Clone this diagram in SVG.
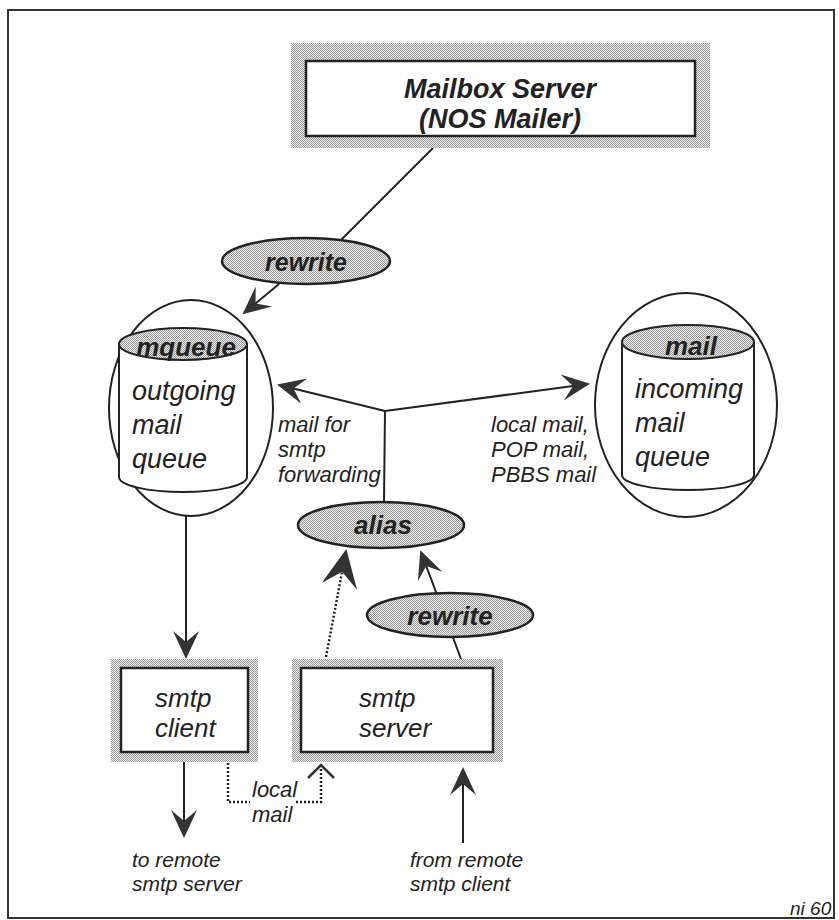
<svg xmlns="http://www.w3.org/2000/svg" width="839" height="920" viewBox="0 0 839 920">
<defs>
<pattern id="dither" width="2" height="2" patternUnits="userSpaceOnUse">
<rect width="2" height="2" fill="#eeeeee"/>
<rect width="1" height="1" fill="#9a9a9a"/>
<rect x="1" y="1" width="1" height="1" fill="#9a9a9a"/>
</pattern>
<marker id="ah" viewBox="-28 -15 32 30" markerWidth="32" markerHeight="30" refX="0" refY="0" orient="auto" markerUnits="userSpaceOnUse">
<path d="M2,0 L-26,-13 L-15,0 L-26,13 Z" fill="#333"/>
</marker>
<marker id="ahB" viewBox="-38 -20 42 40" markerWidth="42" markerHeight="40" refX="0" refY="0" orient="auto" markerUnits="userSpaceOnUse">
<path d="M2,0 L-36,-18 L-21,0 L-36,18 Z" fill="#333"/>
</marker>
<marker id="chev" viewBox="-16 -16 20 32" markerWidth="20" markerHeight="32" refX="0" refY="0" orient="auto" markerUnits="userSpaceOnUse">
<path d="M-13,-13 L0,0 L-13,13" fill="none" stroke="#333" stroke-width="2.5"/>
</marker>
<style>
.frame{fill:none;stroke:#333;stroke-width:2}
.shade{fill:url(#dither)}
.box{fill:#fff;stroke:#222;stroke-width:2.5}
.ell{fill:url(#dither);stroke:#222;stroke-width:2.5}
.ring{fill:#fff;stroke:#222;stroke-width:2}
.cyl{fill:#fff;stroke:#222;stroke-width:2}
.ln{fill:none;stroke:#222;stroke-width:2}
.dot{fill:none;stroke:#222;stroke-width:2.5;stroke-dasharray:2 2}
text{font-family:"Liberation Sans",Arial,sans-serif;font-style:italic;fill:#222}
.b{font-weight:bold}
.c{text-anchor:middle}
.t27{font-size:27px}
.t26{font-size:26px}
.t22{font-size:22px}
.t21{font-size:21px}
</style>
</defs>

<rect class="frame" x="8" y="10" width="826" height="908"/>

<g id="connectors">
<line class="ln" x1="433" y1="148" x2="340" y2="241"/>
<line class="ln" x1="279" y1="284" x2="244" y2="313" marker-end="url(#ah)"/>
<line class="ln" x1="385" y1="411" x2="279" y2="385" marker-end="url(#ah)"/>
<line class="ln" x1="385" y1="411" x2="588" y2="384" marker-end="url(#ah)"/>
<line class="ln" x1="385" y1="410" x2="384" y2="502"/>
<line class="ln" x1="186" y1="516" x2="186" y2="657" marker-end="url(#ah)"/>
<line class="ln" x1="184" y1="762" x2="184" y2="836" marker-end="url(#ah)"/>
<line class="dot" x1="326" y1="657" x2="346" y2="551" marker-end="url(#ahB)"/>
<line class="ln" x1="461" y1="659" x2="421" y2="552" marker-end="url(#ah)"/>
<path class="dot" d="M228,763 V802 H250"/>
<path class="dot" d="M296,802 H321 V765" marker-end="url(#chev)"/>
<line class="ln" x1="463" y1="843" x2="463" y2="769" marker-end="url(#ah)"/>
</g>

<g id="mailbox-server">
<rect class="shade" x="291" y="43" width="419" height="105"/>
<rect class="box" x="306" y="61" width="389" height="75"/>
<text class="b c t27" x="500" y="98">Mailbox Server</text>
<text class="b c t27" x="500" y="128">(NOS Mailer)</text>
</g>

<g id="rewrite-top">
<ellipse class="ell" cx="306" cy="261" rx="84" ry="23"/>
<text class="b c" style="font-size:25px" x="306" y="271">rewrite</text>
</g>

<g id="mqueue">
<ellipse class="ring" cx="191" cy="408" rx="82" ry="108"/>
<path class="cyl" d="M119,344 V477 A64,15 0 0 0 247,477 V344"/>
<ellipse class="ell" style="stroke-width:2" cx="183" cy="344" rx="64" ry="16"/>
<text class="b c t26" x="186" y="356">mqueue</text>
<text class="t27" x="132" y="400">outgoing</text>
<text class="t27" x="132" y="434">mail</text>
<text class="t27" x="132" y="468">queue</text>
</g>

<g id="mail">
<ellipse class="ring" cx="686" cy="405" rx="91" ry="112"/>
<path class="cyl" d="M622,342 V475 A66,15 0 0 0 754,475 V342"/>
<ellipse class="ell" style="stroke-width:2" cx="688" cy="342" rx="66" ry="17"/>
<text class="b c t26" x="691" y="355">mail</text>
<text class="t27" x="635" y="398">incoming</text>
<text class="t27" x="635" y="432">mail</text>
<text class="t27" x="635" y="466">queue</text>
</g>

<g id="label-forwarding">
<text class="t22" x="278" y="432">mail for</text>
<text class="t22" x="278" y="457">smtp</text>
<text class="t22" x="278" y="482">forwarding</text>
</g>

<g id="label-local">
<text class="t22" x="491" y="432">local mail,</text>
<text class="t22" x="491" y="457">POP mail,</text>
<text class="t22" x="491" y="482">PBBS mail</text>
</g>

<g id="alias">
<ellipse class="ell" cx="381" cy="525" rx="83" ry="23"/>
<text class="b c t26" x="383" y="534">alias</text>
</g>

<g id="rewrite-bottom">
<ellipse class="ell" cx="450" cy="615" rx="83" ry="22"/>
<text class="b c t26" x="450" y="625">rewrite</text>
</g>

<g id="smtp-client">
<rect class="shade" x="111" y="659" width="147" height="103"/>
<rect class="box" x="121" y="668" width="127" height="84"/>
<text class="t26" x="155" y="707">smtp</text>
<text class="t26" x="155" y="737">client</text>
</g>

<g id="smtp-server">
<rect class="shade" x="292" y="659" width="211" height="103"/>
<rect class="box" x="301" y="668" width="192" height="84"/>
<text class="t26" x="359" y="707">smtp</text>
<text class="t26" x="359" y="737">server</text>
</g>

<g id="label-localmail">
<text class="t22" x="252" y="797">local</text>
<text class="t22" x="252" y="822">mail</text>
</g>

<g id="label-to-remote">
<text class="t21" x="132" y="867">to remote</text>
<text class="t21" x="132" y="891">smtp server</text>
</g>

<g id="label-from-remote">
<text class="t21" x="410" y="867">from remote</text>
<text class="t21" x="410" y="891">smtp client</text>
</g>

<text style="font-size:19px" x="790" y="915">ni 60</text>
</svg>
